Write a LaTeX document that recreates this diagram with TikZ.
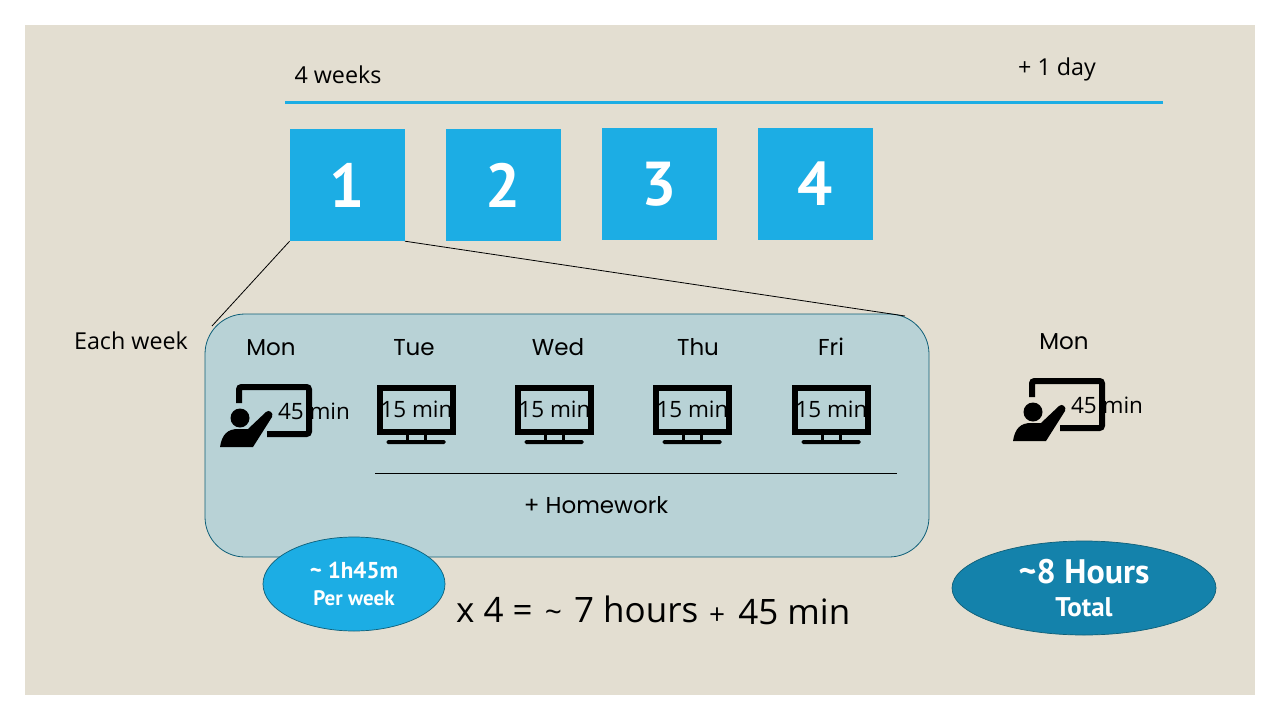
\documentclass[tikz,border=0pt]{standalone}
\usepackage{fontspec}
\setmainfont{Open Sans}
\newfontfamily\dayfont{Poppins}
\newfontfamily\boldfont{PT Sans}
\usetikzlibrary{shapes.geometric, positioning}
\definecolor{paper}{HTML}{E3DED1}
\definecolor{skyblue}{HTML}{1CADE4}
\definecolor{weekfill}{HTML}{B8D2D6}
\definecolor{tealblue}{HTML}{1482AB}
\definecolor{edgeblue}{HTML}{0F5F78}

\tikzset{
  stand/.pic={
    \fill (-11,0) rectangle (-8,7);
    \fill (7,0) rectangle (10,7);
    \fill[rounded corners=1.5pt] (-30,5) rectangle (29,9);
  },
  teacher/.pic={
    \draw[line width=6pt, rounded corners=2.5pt] (19,19) -- (19,3) -- (89,3) -- (89,50) -- (47,50);
    \fill (20,34) circle (9.5);
    \fill (0,63) .. controls (2,50) and (8,45) .. (18,45) -- (28,45) -- (46,28)
      .. controls (49,25) and (54,29) .. (52,33) -- (33,63) -- cycle;
  }
}

\begin{document}
\begin{tikzpicture}[
    x=1pt, y=-1pt,
    node distance=40.6pt,
    numbox/.style={rectangle, fill=skyblue, text=white, minimum width=115pt, minimum height=112pt,
                   inner sep=0pt, font=\boldfont\fontsize{62}{66}\selectfont\bfseries},
    screenbox/.style={rectangle, draw=black, line width=6pt, minimum width=73pt, minimum height=44pt,
                      inner sep=0pt},
    daylabel/.style={font=\dayfont\fontsize{23}{26}\selectfont, text height=17pt, text depth=0pt, inner sep=0pt},
    plain/.style={font=\fontsize{23.3}{26}\selectfont, inner sep=0pt},
    wraptext/.style={font=\fontsize{22.5}{24}\selectfont, inner sep=0pt},
    bubble/.style={ellipse, draw=edgeblue, line width=0.7pt, inner sep=0pt, align=center, text=white},
    link/.style={draw=black, line width=0.8pt}
]
\useasboundingbox (0,0) rectangle (1280,720);
\fill[paper] (25,25) rectangle (1255,695);

\node[plain] (fourweeks) at (338,75) {4 weeks};
\node[plain] (oneday) at (1057,69.5) {+ 1 day};
\coordinate (rulestart) at (285,102);
\coordinate (ruleend) at (1163,102);
\draw[draw=skyblue, line width=3pt] (rulestart) -- (ruleend);

\node[numbox] (wk1) at (347.3,185) {1};
\node[numbox, right=of wk1] (wk2) {2};
\node[numbox, right=of wk2, yshift=1pt] (wk3) {3};
\node[numbox, right=of wk3] (wk4) {4};

% week panel
\node[rectangle, rounded corners=40pt, draw=edgeblue, line width=0.8pt, fill=weekfill,
      minimum width=724pt, minimum height=243pt, inner sep=0pt] (week) at (567,435.5) {};
\coordinate (weekleft) at (212,326);
\coordinate (weekright) at (905,316);
\draw[link] (wk1.south west) -- (weekleft);
\draw[link] (wk1.south east) -- (weekright);

\node[plain] (each) at (131,341) {Each week};

\node[daylabel] (mon) at (271,347) {Mon};
\node[daylabel] (tue) at (414,347) {Tue};
\node[daylabel] (wed) at (558,347) {Wed};
\node[daylabel] (thu) at (698,347) {Thu};
\node[daylabel] (fri) at (831,347) {Fri};

\pic at (220,384) {teacher};
\node[wraptext] (montime) at (314,411.5) {45 min};

\node[screenbox] (tuescreen) at (416.5,410) {\makebox[0pt]{\raisebox{1pt}{\fontsize{22.5}{24}\selectfont 15 min}}};
\node[screenbox, right=59pt of tuescreen] (wedscreen) {\makebox[0pt]{\raisebox{1pt}{\fontsize{22.5}{24}\selectfont 15 min}}};
\node[screenbox, right=59pt of wedscreen] (thuscreen) {\makebox[0pt]{\raisebox{1pt}{\fontsize{22.5}{24}\selectfont 15 min}}};
\node[screenbox, right=60pt of thuscreen] (friscreen) {\makebox[0pt]{\raisebox{1pt}{\fontsize{22.5}{24}\selectfont 15 min}}};
\pic at (tuescreen.south) {stand};
\pic at (wedscreen.south) {stand};
\pic at (thuscreen.south) {stand};
\pic at (friscreen.south) {stand};

\coordinate (hwstart) at (375,473);
\coordinate (hwend) at (897,473);
\draw[link] (hwstart) -- (hwend);
\node[daylabel, text height=16pt] (homework) at (596,505) {+ Homework};

% extra day
\node[daylabel] (nextmon) at (1064,341) {Mon};
\pic at (1013,378) {teacher};
\node[wraptext] (nexttime) at (1107,405.5) {45 min};

% totals
\node[bubble, fill=skyblue, minimum width=182pt, minimum height=94pt] (perweek) at (354,584)
  {\boldfont\bfseries\fontsize{23}{26}\selectfont \textasciitilde{} 1h45m\\[10pt]\boldfont\bfseries\fontsize{21}{24}\selectfont Per week};
\node[bubble, fill=tealblue, minimum width=264pt, minimum height=94pt] (total) at (1084,588)
  {\boldfont\bfseries\fontsize{34}{36}\selectfont \textasciitilde 8 Hours\\[13pt]\boldfont\bfseries\fontsize{27}{28}\selectfont Total};

\node[font=\fontsize{35}{38}\selectfont, inner sep=0pt, anchor=west] (sumleft) at (456,609)
  {x 4 = \hspace{3pt}{\fontsize{30}{32}\selectfont\textasciitilde}\hspace{3pt} 7 hours};
\node[font=\fontsize{35}{38}\selectfont, inner sep=0pt, anchor=west] (sumright) at (709,612)
  {{\fontsize{28}{30}\selectfont +}\hspace{4pt} 45 min};
\end{tikzpicture}
\end{document}
